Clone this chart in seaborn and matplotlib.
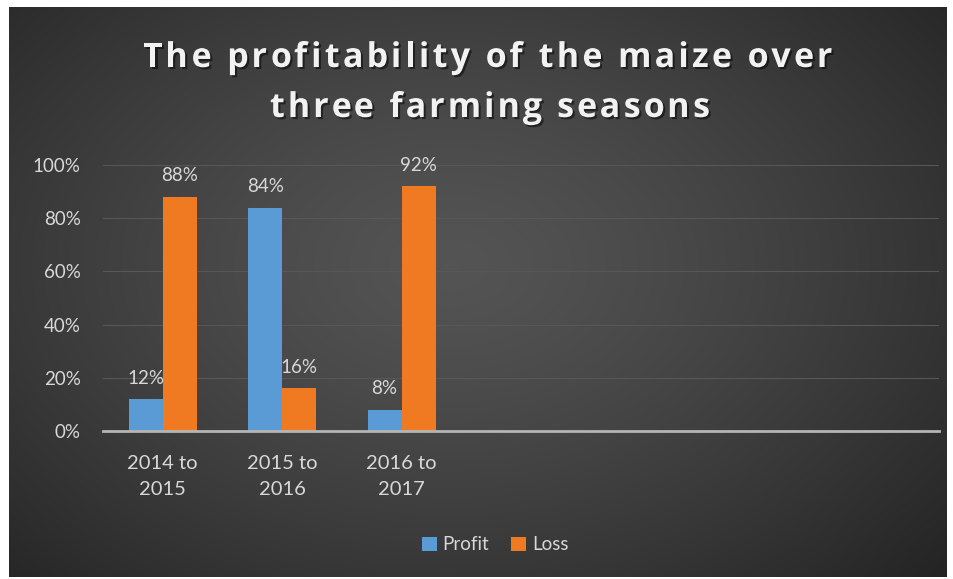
import numpy as np
import pandas as pd
import matplotlib
matplotlib.use("Agg")
import matplotlib.pyplot as plt
import seaborn as sns
from matplotlib.patches import Patch
import matplotlib.patheffects as pe

# ---- data ----
categories = ["2014 to\n2015", "2015 to\n2016", "2016 to\n2017"]
empty_slots = [" ", "  ", "   ", "    "]
profit = [0.12, 0.84, 0.08]
loss = [0.88, 0.16, 0.92]
series = ["Profit", "Loss"]
colors = ["#5B9BD5", "#F07A22"]
title_lines = ["The profitability of the maize over", "three farming seasons"]

df = pd.DataFrame({
    "season": categories * 2,
    "value": profit + loss,
    "series": ["Profit"] * 3 + ["Loss"] * 3,
})

sns.set_theme(style="white")
plt.rcParams["font.family"] = ["Lato", "DejaVu Sans"]

W, H = 954, 579
fig = plt.figure(figsize=(W / 100, H / 100), dpi=100, facecolor="white")

# background gradient panel
bg = fig.add_axes([9 / W, 2 / H, (947 - 9) / W, (577 - 7) / H], zorder=-5)
ny, nx = 200, 330
yy, xx = np.mgrid[0:ny, 0:nx]
cx, cy = nx * 0.47, ny * 0.45
r = np.sqrt(((xx - cx) / nx) ** 2 + ((yy - cy) / ny) ** 2 * 0.8)
r = r / r.max()
val = 0.33 - 0.19 * r ** 1.3
img = np.dstack([val, val, val])
bg.imshow(img, aspect="auto", interpolation="bicubic")
bg.axis("off")

ax = fig.add_axes([103 / W, (579 - 431) / H, (939 - 103) / W, (431 - 165) / H])
ax.patch.set_alpha(0)
sns.barplot(data=df, x="season", y="value", hue="series",
            order=categories + empty_slots, hue_order=series,
            palette=colors, width=0.57, gap=0, saturation=1,
            legend=False, ax=ax, zorder=3, linewidth=0, edgecolor="none")

ax.set_ylim(0, 1.0)
ax.set_yticks(np.arange(0, 1.01, 0.2))
ax.set_yticklabels([f"{int(round(t*100))}%" for t in np.arange(0, 1.01, 0.2)])
ax.set_xlabel("")
ax.set_ylabel("")
for sp in ["top", "right", "left"]:
    ax.spines[sp].set_visible(False)
ax.spines["bottom"].set_color("#b5b5b5")
ax.spines["bottom"].set_linewidth(2)
ax.spines["bottom"].set_zorder(4)
ax.grid(axis="y", color="#575757", linewidth=0.8, zorder=0)
ax.tick_params(axis="y", length=0, pad=16, labelsize=13.5, labelcolor="#d8d8d8")
ax.tick_params(axis="x", length=0, pad=17, labelsize=14.5, labelcolor="#d8d8d8")
for lab in ax.get_xticklabels():
    lab.set_linespacing(1.7)

for cont in ax.containers:
    ax.bar_label(cont, labels=[f"{v*100:.0f}%" for v in cont.datavalues],
                 padding=9, color="#d8d8d8", fontsize=13.5)

# title with letter spacing
renderer = fig.canvas.get_renderer()
tprops = dict(fontsize=24.5, fontweight="bold", family=["Open Sans", "DejaVu Sans"])
shadow = [pe.withSimplePatchShadow(offset=(1.5, -1.5), shadow_rgbFace="black", alpha=0.5)]


def text_w(s):
    t = fig.text(0, 0, s, **tprops)
    w = t.get_window_extent(renderer).width
    t.remove()
    return w


def spaced_line(line, cx_px, base_px, total_px):
    xw = text_w("x")
    full = text_w(line)
    sp = (total_px - full) / (len(line) - 1)
    x0 = cx_px - total_px / 2
    for i, ch in enumerate(line):
        if ch == " ":
            continue
        off = text_w(line[:i] + "x") - xw if i > 0 else 0
        fig.text((x0 + off + i * sp) / W, 1 - base_px / H, ch, ha="left", va="baseline",
                 color="#f2f2f2", path_effects=shadow, **tprops)


spaced_line(title_lines[0], 488, 67, 690)
spaced_line(title_lines[1], 490, 117, 440)

handles = [Patch(facecolor=c, edgecolor="none") for c in colors]
leg = fig.legend(handles, series, loc="center", bbox_to_anchor=(495 / W, 1 - 545 / H),
                 ncol=2, frameon=False, fontsize=13.5, handlelength=0.8,
                 handleheight=0.8, handletextpad=0.3, columnspacing=1.2)
for t in leg.get_texts():
    t.set_color("#d8d8d8")

fig.savefig("out.png", dpi=100, facecolor="white")
